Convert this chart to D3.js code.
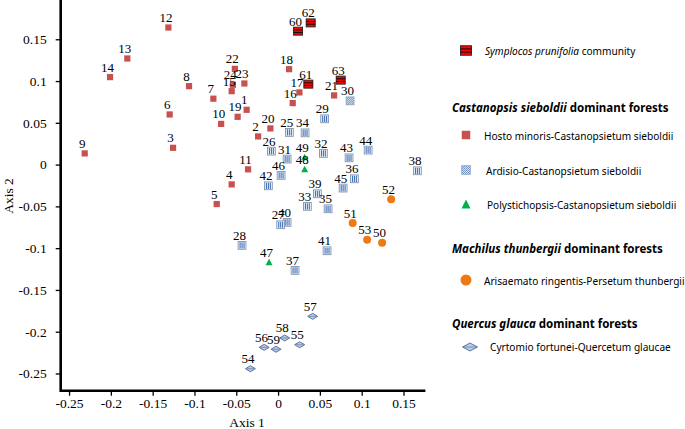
<!DOCTYPE html>
<html><head><meta charset="utf-8">
<script src="https://cdn.jsdelivr.net/npm/d3@7"></script>
<style>body{margin:0;background:#fff}svg{display:block}</style>
</head><body><svg id="c" width="685" height="429"></svg>
<script>
// ---- data (id, axis1, axis2) ----
const xTicks = [-0.25,-0.2,-0.15,-0.1,-0.05,0,0.05,0.1,0.15];
const yTicks = [-0.25,-0.2,-0.15,-0.1,-0.05,0,0.05,0.1,0.15];
const symplocos = [[60,0.0239,0.1597],[62,0.039,0.1696],[61,0.0362,0.0963],[63,0.0749,0.1011]];
const hosto = [[12,-0.1312,0.1641],[13,-0.1803,0.127],[14,-0.201,0.1047],[8,-0.1065,0.0939],
  [7,-0.0774,0.0789],[6,-0.1297,0.06],[10,-0.0681,0.0487],[3,-0.1256,0.0201],[9,-0.2313,0.0134],
  [4,-0.0555,-0.0237],[5,-0.0734,-0.0472],[22,-0.0517,0.1146],[24,-0.0541,0.0955],[23,-0.0403,0.0971],
  [15,-0.0555,0.0879],[19,-0.0484,0.0572],[1,-0.0376,0.0656],[2,-0.0239,0.0337],[20,-0.0092,0.0433],
  [11,-0.0359,-0.0057],[18,0.0132,0.1142],[17,0.0255,0.0864],[16,0.0175,0.0736],[21,0.067,0.0828]];
const ardisio = [[30,0.0861,0.0763],[29,0.0557,0.0548],[25,0.0135,0.0385],[34,0.0323,0.038],
  [26,-0.008,0.0161],[32,0.0542,0.0134],[43,0.0849,0.0081],[44,0.1077,0.0173],[31,0.0108,0.0066],
  [46,0.0036,-0.0129],[36,0.0913,-0.017],[38,0.1666,-0.0074],[42,-0.0116,-0.0254],[45,0.0778,-0.0281],
  [39,0.047,-0.0349],[33,0.035,-0.05],[35,0.0598,-0.0529],[40,0.0108,-0.0691],[27,0.0031,-0.072],
  [28,-0.0431,-0.0967],[41,0.0586,-0.1031],[37,0.0203,-0.1266]];
const dottedIds = [30];
const polysticho = [[49,0.0318,0.009],[48,0.0318,-0.0054],[47,-0.0108,-0.1166]];
const arisaemato = [[52,0.1352,-0.0416],[51,0.0892,-0.07],[53,0.1065,-0.09],[50,0.1244,-0.0935]];
const cyrtomio = [[57,0.0414,-0.1816],[58,0.0079,-0.2075],[55,0.0258,-0.2156],[56,-0.0167,-0.2187],
  [59,-0.0024,-0.221],[54,-0.0331,-0.2443]];

const svg = d3.select('#c');
const serif = '"Liberation Serif","Times New Roman",serif';
const sans = '"Noto Sans","Open Sans",sans-serif';

const x = d3.scaleLinear().domain([-0.26,0.175]).range([60.7,424.4]);
const y = d3.scaleLinear().domain([-0.2706,0.197]).range([390.7,0]);

// patterns
const defs = svg.append('defs');
const pd = defs.append('pattern').attr('id','dots').attr('patternUnits','userSpaceOnUse')
  .attr('width',2).attr('height',2);
pd.append('rect').attr('width',2).attr('height',2).attr('fill','#dfe8f4');
pd.append('rect').attr('width',1).attr('height',1).attr('fill','#6f92c8');
pd.append('rect').attr('x',1).attr('y',1).attr('width',1).attr('height',1).attr('fill','#6f92c8');

// axes
const fmt = d => String(+d.toFixed(2));
const minor = d3.range(-26,18).map(v=>v/100);
const minorY = d3.range(-27,20).map(v=>v/100);
const gx = svg.append('g').attr('transform',`translate(0,${y.range()[0]})`);
gx.call(d3.axisBottom(x).tickValues(minor).tickSize(3).tickFormat(''));
gx.call(d3.axisBottom(x).tickValues(xTicks).tickSize(5).tickPadding(3).tickFormat(fmt));
const gy = svg.append('g').attr('transform',`translate(${x.range()[0]},0)`);
gy.call(d3.axisLeft(y).tickValues(minorY.filter(v=>y(v)>=0)).tickSize(3).tickFormat(''));
gy.call(d3.axisLeft(y).tickValues(yTicks).tickSize(5).tickPadding(9).tickFormat(fmt));
svg.selectAll('.domain').remove();
svg.selectAll('.tick line').attr('stroke','#000').attr('stroke-width',1.3);
svg.selectAll('.tick text').attr('font-family',serif).attr('font-size',13.5).attr('fill','#000');
svg.append('line').attr('x1',x.range()[0]).attr('x2',x.range()[1]+1).attr('y1',y.range()[0]).attr('y2',y.range()[0])
  .attr('stroke','#000').attr('stroke-width',2.6);
svg.append('line').attr('x1',x.range()[0]).attr('x2',x.range()[0]).attr('y1',y.range()[0]+1.3).attr('y2',0)
  .attr('stroke','#000').attr('stroke-width',2.6);

svg.append('text').attr('x',247).attr('y',427).attr('text-anchor','middle')
  .attr('font-family',serif).attr('font-size',13.5).text('Axis 1');
svg.append('text').attr('transform','translate(13,196) rotate(-90)').attr('text-anchor','middle')
  .attr('font-family',serif).attr('font-size',13.5).text('Axis 2');

// marker drawers
function mSymp(g,w,h){
  g.append('rect').attr('x',-w/2).attr('y',-h/2).attr('width',w).attr('height',h)
    .attr('fill','#ff0000').attr('stroke','#222').attr('stroke-width',0.9);
  [-h/6, h/6].forEach(o=>g.append('line').attr('x1',-w/2).attr('x2',w/2).attr('y1',o).attr('y2',o)
    .attr('stroke','#111').attr('stroke-width',1.1));
}
function mHosto(g,s){
  g.append('rect').attr('x',-s/2).attr('y',-s/2).attr('width',s).attr('height',s).attr('fill','#c8504e');
}
function mArd(g,s,dotted){
  if(dotted){
    g.append('rect').attr('x',-s/2).attr('y',-s/2).attr('width',s).attr('height',s)
      .attr('fill','url(#dots)').attr('stroke','#8ea3c2').attr('stroke-width',0.9);
    return;
  }
  g.append('rect').attr('x',-s/2).attr('y',-s/2).attr('width',s).attr('height',s)
    .attr('fill','#f4f7fc').attr('stroke','#8194b0').attr('stroke-width',0.9);
  [-s/4,0,s/4].forEach(o=>g.append('line').attr('x1',o).attr('x2',o).attr('y1',-s/2+0.8).attr('y2',s/2-0.8)
    .attr('stroke','#3f6fb8').attr('stroke-width',1.1));
}
function mTri(g,w,h){
  g.append('path').attr('d',`M0,${-h/2}L${w/2},${h/2}L${-w/2},${h/2}Z`).attr('fill','#00b050');
}
function mCirc(g,r){ g.append('circle').attr('r',r).attr('fill','#ee7a14'); }
function mDia(g,w,h){
  g.append('path').attr('d',`M${-w/2},0L0,${-h/2}L${w/2},0L0,${h/2}Z`)
    .attr('fill','#b9cde6').attr('stroke','#4f6790').attr('stroke-width',0.9);
  g.append('line').attr('x1',-w/2+1.5).attr('x2',w/2-1.5).attr('y1',0).attr('y2',0)
    .attr('stroke','#5b77a3').attr('stroke-width',0.7);
}

const plot = svg.append('g');
const place = (d)=>plot.append('g').attr('transform',`translate(${x(d[1])},${y(d[2])})`);
hosto.forEach(d=>mHosto(place(d),6.2));
ardisio.forEach(d=>mArd(place(d),7.8,dottedIds.includes(d[0])));
polysticho.forEach(d=>mTri(place(d),7,6.5));
arisaemato.forEach(d=>mCirc(place(d),4));
cyrtomio.forEach(d=>mDia(place(d),10,6));
symplocos.forEach(d=>mSymp(place(d),9,8));

const all = [].concat(symplocos,hosto,ardisio,polysticho,arisaemato,cyrtomio);
plot.selectAll('text.lab').data(all).join('text').attr('class','lab')
  .attr('x',d=>x(d[1])-2.5).attr('y',d=>y(d[2])-5.5).attr('text-anchor','middle')
  .attr('font-family',serif).attr('font-size',13).attr('fill','#000').text(d=>d[0]);

// legend
const lg = svg.append('g').attr('font-family',sans).attr('font-size',10.1).attr('fill','#000');
const mk = (cx,cy)=>lg.append('g').attr('transform',`translate(${cx},${cy})`);
function ltext(tx,ty,parts,bold){
  const t = lg.append('text').attr('x',tx).attr('y',ty).attr('dominant-baseline','central');
  if(bold) t.attr('font-weight','bold').attr('font-size',11.5);
  parts.forEach(p=>t.append('tspan').attr('font-style',p[1]?'italic':null).text(p[0]));
}
mSymp(mk(466,50.5),11,9.5);
ltext(485,50.5,[['Symplocos prunifolia',1],[' community',0]]);
ltext(452,107,[['Castanopsis sieboldii',1],[' dominant forests',0]],true);
mHosto(mk(466,135),8.5);
ltext(484,136,[['Hosto minoris-Castanopsietum sieboldii',0]]);
mArd(mk(466,170),8.5,true);
ltext(486,170.5,[['Ardisio-Castanopsietum sieboldii',0]]);
mTri(mk(466,204),9,9);
ltext(487,204.5,[['Polystichopsis-Castanopsietum sieboldii',0]]);
ltext(452,248,[['Machilus thunbergii',1],[' dominant forests',0]],true);
mCirc(mk(466,280),5.5);
ltext(484,280.5,[['Arisaemato ringentis-Persetum thunbergii',0]]);
ltext(452,323,[['Quercus glauca',1],[' dominant forests',0]],true);
mDia(mk(470,347),15,8);
ltext(490,347,[['Cyrtomio fortunei-Quercetum glaucae',0]]);
</script></body></html>
